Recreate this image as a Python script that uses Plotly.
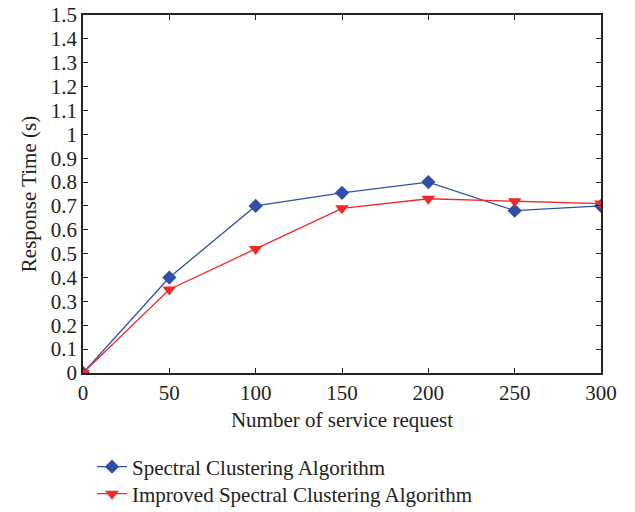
import plotly.graph_objects as go

requests = [0, 50, 100, 150, 200, 250, 300]
spectral = [0, 0.40, 0.70, 0.755, 0.80, 0.68, 0.70]
improved = [0, 0.35, 0.52, 0.69, 0.73, 0.72, 0.71]
y_ticks = [0, 0.1, 0.2, 0.3, 0.4, 0.5, 0.6, 0.7, 0.8, 0.9, 1, 1.1, 1.2, 1.3, 1.4, 1.5]
y_labels = ["0", "0.1", "0.2", "0.3", "0.4", "0.5", "0.6", "0.7", "0.8", "0.9", "1",
            "1.1", "1.2", "1.3", "1.4", "1.5"]
x_ticks = [0, 50, 100, 150, 200, 250, 300]

FONT = "Liberation Serif"
BLUE = "#3050a8"
RED = "#f02828"
TXT = "#222"

fig = go.Figure()
fig.add_trace(go.Scatter(
    x=requests, y=spectral, mode="lines+markers", name="Spectral Clustering Algorithm",
    line=dict(color=BLUE, width=1.3),
    marker=dict(symbol="diamond", size=11, color=BLUE),
    legend="legend", showlegend=True,
))
fig.add_trace(go.Scatter(
    x=requests, y=improved, mode="lines+markers", name="Improved Spectral Clustering Algorithm",
    line=dict(color=RED, width=1.3),
    marker=dict(symbol="triangle-down", size=12, color=RED),
    legend="legend2", showlegend=True,
))

axis_common = dict(
    showline=True, linecolor=TXT, linewidth=1.5, mirror="ticks",
    ticks="inside", ticklen=5, tickwidth=1, tickcolor=TXT,
    showgrid=False, zeroline=False, automargin=False,
    tickfont=dict(family=FONT, size=21, color=TXT),
)

fig.update_layout(
    width=635, height=512,
    margin=dict(l=83, r=34, t=15, b=139, autoexpand=False),
    paper_bgcolor="white", plot_bgcolor="white",
    showlegend=True,
    font=dict(family=FONT, size=21, color=TXT),
    xaxis=dict(range=[0, 300], tickvals=x_ticks,
               title=dict(text="Number of service request", font=dict(family=FONT, size=21), standoff=8),
               **axis_common),
    yaxis=dict(range=[0, 1.5], tickvals=y_ticks, ticktext=y_labels,
               title=dict(text="Response Time (s)", font=dict(family=FONT, size=21), standoff=8),
               **axis_common),
    legend=dict(x=0.0174, y=-0.2626, xanchor="left", yanchor="middle",
                font=dict(family=FONT, size=21), bgcolor="rgba(0,0,0,0)"),
    legend2=dict(x=0.0174, y=-0.338, xanchor="left", yanchor="middle",
                 font=dict(family=FONT, size=21), bgcolor="rgba(0,0,0,0)"),
)

fig.write_html("out.html")
